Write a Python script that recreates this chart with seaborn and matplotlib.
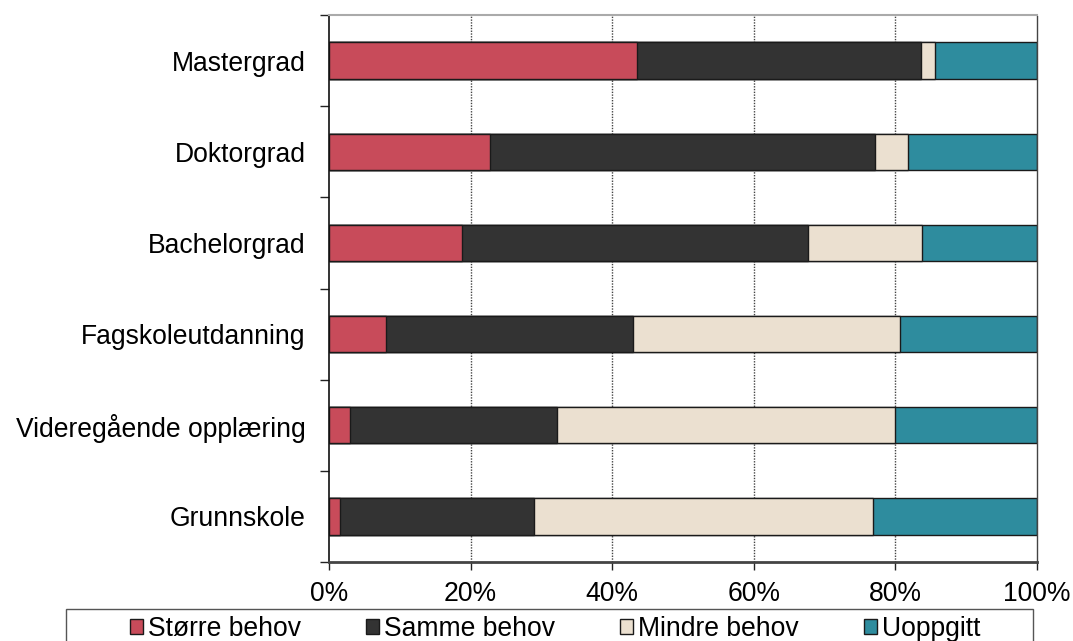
import matplotlib
matplotlib.use("Agg")
import matplotlib.pyplot as plt
from matplotlib.patches import Patch, Rectangle
from matplotlib.ticker import FixedLocator, PercentFormatter
import seaborn as sns
import numpy as np

categories = ["Mastergrad", "Doktorgrad", "Bachelorgrad", "Fagskoleutdanning",
              "Videregående opplæring", "Grunnskole"]
series_names = ["Større behov", "Samme behov", "Mindre behov", "Uoppgitt"]
storre = [43.5, 22.7, 18.8, 8.0, 3.0, 1.6]
samme = [40.1, 54.4, 48.8, 35.0, 29.2, 27.3]
mindre = [2.0, 4.7, 16.2, 37.7, 47.7, 47.9]
uoppgitt = [14.4, 18.2, 16.2, 19.3, 20.1, 23.2]
colors = ["#C84B5A", "#333333", "#EBE0D0", "#2E8C9E"]
xticks = [0, 20, 40, 60, 80, 100]

sns.set_style("white")
plt.rcParams["font.family"] = ["Liberation Sans", "DejaVu Sans"]
plt.rcParams["text.color"] = "black"
plt.rcParams["xtick.labelcolor"] = "black"
plt.rcParams["ytick.labelcolor"] = "black"
FS = 19.1

W, H = 1073, 641
fig = plt.figure(figsize=(W / 100, H / 100), dpi=100)
ax = fig.add_axes([329 / W, 1 - 562 / H, (1037 - 329) / W, (562 - 15) / H])

series = [storre, samme, mindre, uoppgitt]
cum = np.cumsum(np.array(series), axis=0)

# stacked bars: draw cumulative totals from the outermost segment inward
for i in range(len(series) - 1, -1, -1):
    sns.barplot(x=cum[i], y=categories, orient="h", color=colors[i], width=0.4,
                edgecolor="#1a1a1a", linewidth=1.0, saturation=1, ax=ax)

ax.set_xlim(0, 100)
ax.set_ylim(len(categories) - 0.5, -0.5)
ax.set_xlabel("")
ax.set_ylabel("")

ax.set_xticks(xticks)
ax.xaxis.set_major_formatter(PercentFormatter(decimals=0))
ax.tick_params(axis="x", which="major", direction="out", length=6, width=1,
               color="#222222", labelsize=FS, pad=8, bottom=True,
               labelcolor="black")

ax.set_yticks(range(len(categories)))
ax.set_yticklabels(categories)
ax.tick_params(axis="y", which="major", length=0, labelsize=FS, pad=17,
               labelcolor="black")
ax.yaxis.set_minor_locator(FixedLocator(np.arange(-0.5, len(categories), 1.0)))
ax.tick_params(axis="y", which="minor", direction="out", length=6.5, width=1,
               color="#222222", left=True)

for x in xticks[1:-1]:
    ax.axvline(x, color="#444444", linestyle=(0, (1, 1)), linewidth=1, zorder=0)

ax.spines["left"].set_color("#111111")
ax.spines["left"].set_linewidth(1.2)
ax.spines["bottom"].set_color("#444444")
ax.spines["bottom"].set_linewidth(2)
ax.spines["top"].set_color("#aaaaaa")
ax.spines["top"].set_linewidth(1.5)
ax.spines["right"].set_color("#444444")
ax.spines["right"].set_linestyle((0, (1, 1)))
ax.spines["right"].set_linewidth(1)

# legend box running off the lower edge of the figure
fig.patches.append(Rectangle((66 / W, -0.05), (1033 - 66) / W, 0.05 + 1 - 609 / H,
                             transform=fig.transFigure, facecolor="white",
                             edgecolor="#555555", linewidth=1, zorder=1))

handles = [Patch(facecolor=c, edgecolor="#1a1a1a", linewidth=1, label=n)
           for c, n in zip(colors, series_names)]
leg = fig.legend(handles=handles, loc="upper left",
                 bbox_to_anchor=(130 / W, 1 - 616 / H), ncol=4,
                 fontsize=FS, frameon=False,
                 handlelength=0.49, handleheight=0.49, handletextpad=0.19,
                 columnspacing=2.45, borderpad=0, borderaxespad=0)
leg.set_zorder(2)
for t in leg.get_texts():
    t.set_color("black")

fig.savefig("out.png", dpi=100)
